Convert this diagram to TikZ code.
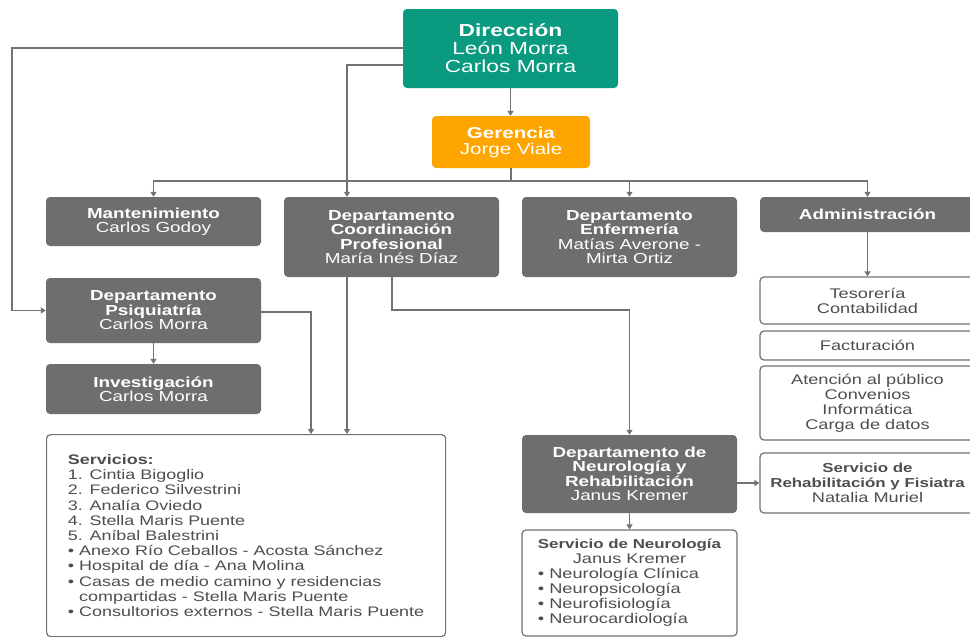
\documentclass[tikz,border=0pt]{standalone}
\usepackage{fontspec}
\setmainfont[FakeStretch=1.3]{Liberation Sans}
\usetikzlibrary{arrows.meta}
\definecolor{teal1}{HTML}{0A9A80}
\definecolor{orng}{HTML}{FFA500}
\definecolor{grbox}{HTML}{6E6E6E}
\definecolor{lnc}{HTML}{727272}
\definecolor{txg}{HTML}{4E4E4E}
\tikzset{
  box/.style={rounded corners=4pt, align=center, inner sep=2pt, font=\fontsize{14.5}{14.5}\selectfont},
  graybox/.style={box, fill=grbox, text=white, minimum width=215pt},
  whitebox/.style={box, fill=white, draw=lnc, line width=1.2pt, text=txg, font=\fontsize{14}{15}\selectfont},
  conn/.style={draw=lnc, line width=1.5pt},
  arr/.style={conn, -{Triangle[width=6pt,length=5pt]}},
}
\newcommand{\wtitle}[1]{{\fontsize{13}{15}\selectfont\bfseries #1}}
\begin{document}
\begin{tikzpicture}[x=1pt,y=-1pt]
\useasboundingbox (0,0) rectangle (970,637);
\begin{scope}
\clip (0,0) rectangle (970,637);
% top
\node[box, fill=teal1, text=white, minimum width=215pt, minimum height=79pt,
      font=\fontsize{17.5}{18}\selectfont] (dir) at (510.5,48.5)
      {\textbf{Dirección}\\León Morra\\Carlos Morra};
\node[box, fill=orng, text=white, minimum width=158pt, minimum height=52pt,
      font=\fontsize{15.8}{16}\selectfont] (ger) at (511,142)
      {\textbf{Gerencia}\\Jorge Viale};
% second row
\node[graybox, minimum height=49pt] (mant) at (153.5,221.5)
      {\textbf{Mantenimiento}\\Carlos Godoy};
\node[graybox, minimum height=80pt] (coord) at (391.5,237)
      {\textbf{Departamento}\\\textbf{Coordinación}\\\textbf{Profesional}\\María Inés Díaz};
\node[graybox, minimum height=80pt] (enf) at (629.5,237)
      {\textbf{Departamento}\\\textbf{Enfermería}\\Matías Averone -\\Mirta Ortiz};
\node[graybox, minimum height=35pt] (adm) at (867.5,214.5)
      {\textbf{Administración}};
% left column
\node[graybox, minimum height=65pt] (psi) at (153.5,310.5)
      {\textbf{Departamento}\\\textbf{Psiquiatría}\\Carlos Morra};
\node[graybox, minimum height=50pt] (inv) at (153.5,389)
      {\textbf{Investigación}\\Carlos Morra};
\node[whitebox, anchor=north west, align=left, minimum width=399pt,
      minimum height=202pt, font=\fontsize{13.8}{15.2}\selectfont] (serv) at (46,434)
      {\textbf{Servicios:}\\
       1. Cintia Bigoglio\\
       2. Federico Silvestrini\\
       3. Analía Oviedo\\
       4. Stella Maris Puente\\
       5. Aníbal Balestrini\\
       • Anexo Río Ceballos - Acosta Sánchez\\
       • Hospital de día - Ana Molina\\
       • Casas de medio camino y residencias\\
       \phantom{•} compartidas - Stella Maris Puente\\
       • Consultorios externos - Stella Maris Puente};
% right column
\node[whitebox, minimum width=215pt, minimum height=47pt] (tes) at (867.5,300.5)
      {Tesorería\\Contabilidad};
\node[whitebox, minimum width=215pt, minimum height=29pt] (fac) at (867.5,345.5)
      {Facturación};
\node[whitebox, minimum width=215pt, minimum height=74pt] (ate) at (867.5,403)
      {Atención al público\\Convenios\\Informática\\Carga de datos};
% neuro
\node[graybox, minimum height=78pt] (neu) at (629.5,474)
      {\textbf{Departamento de}\\\textbf{Neurología y}\\\textbf{Rehabilitación}\\Janus Kremer};
\node[whitebox, minimum width=215pt, minimum height=60pt] (reh) at (867.5,483)
      {\wtitle{Servicio de}\\\wtitle{Rehabilitación y Fisiatra}\\Natalia Muriel};
\node[whitebox, minimum width=215pt, minimum height=106pt] (sneu) at (629.5,583)
      {\begin{tabular}{@{}l@{}}
       \multicolumn{1}{@{}c@{}}{\wtitle{Servicio de Neurología}}\\
       \multicolumn{1}{@{}c@{}}{Janus Kremer}\\
       • Neurología Clínica\\
       • Neuropsicología\\
       • Neurofisiología\\
       • Neurocardiología
       \end{tabular}};
% connectors
\coordinate (j1) at (12,48);
\coordinate (j2) at (347,65);
\coordinate (bus) at (511,181);
\coordinate (j3) at (311,312);
\coordinate (j4) at (392,310);
\draw[arr] (dir.west |- j1) -- (j1) |- (psi.west);
\draw[arr] (dir.west |- j2) -- (j2) -- (j2 |- coord.north);
\draw[arr] (dir.south) -- (dir.south |- ger.north);
\draw[conn] (ger.south) -- (bus);
\draw[arr] (bus) -| (mant.north);
\draw[arr] (bus) -| (enf.north);
\draw[arr] (bus) -| (adm.north);
\draw[arr] (adm.south) -- (tes.north);
\draw[arr] (psi.east |- j3) -- (j3) -- (j3 |- serv.north);
\draw[arr] (coord.south -| j2) -- (j2 |- serv.north);
\draw[arr] (coord.south -| j4) -- (j4) -| (neu.north);
\draw[arr] (psi.south) -- (inv.north);
\draw[arr] (neu.east |- reh.west) -- (reh.west);
\draw[arr] (neu.south) -- (sneu.north);
\end{scope}
\end{tikzpicture}
\end{document}
